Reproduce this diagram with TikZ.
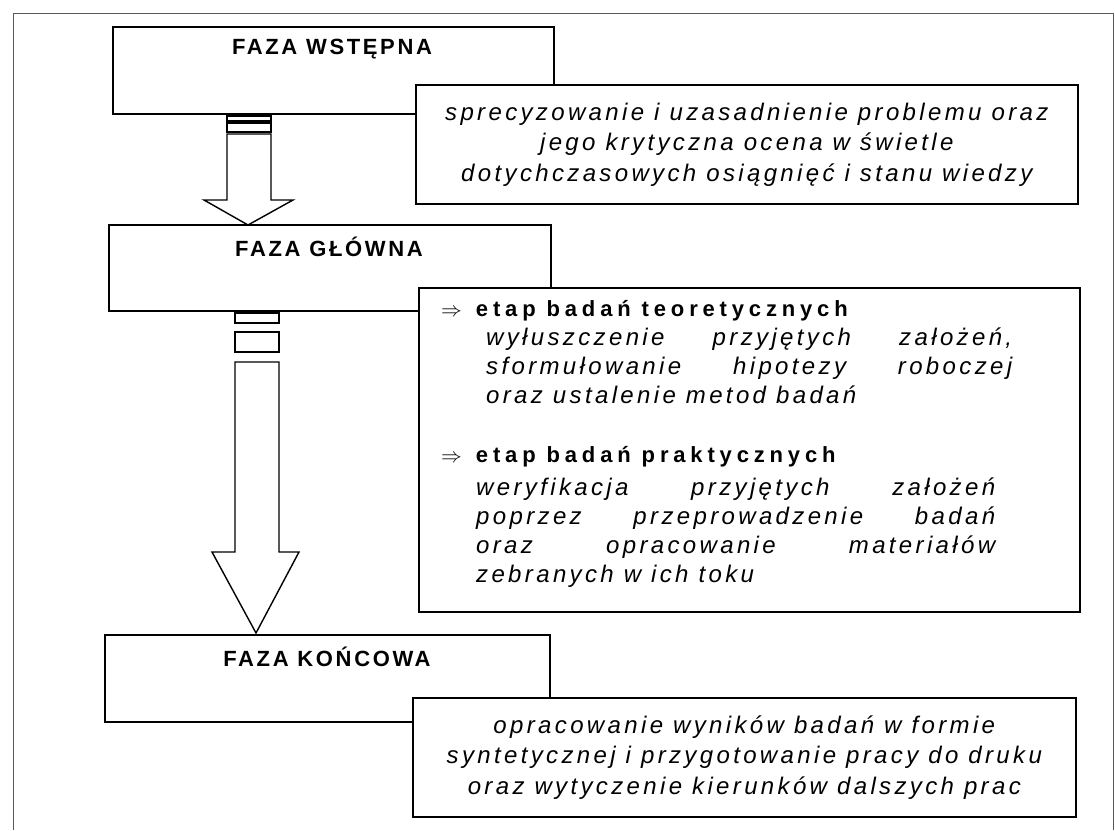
\documentclass[tikz,border=0pt]{standalone}
\usepackage{fontspec}
\setmainfont{Liberation Sans}
\newfontfamily\ttlfont[LetterSpace=12]{Liberation Sans}
\newfontfamily\hdfont[LetterSpace=22]{Liberation Sans}
\newfontfamily\itfont[LetterSpace=14]{Liberation Sans}
\begin{document}
\begin{tikzpicture}[x=1pt,y=-1pt]
\tikzset{
  box/.style={draw=black, line width=1.6pt, fill=white, inner sep=0pt, anchor=north west},
  frameline/.style={draw=black!65, line width=0.9pt},
  ttl/.style={font=\ttlfont\bfseries\fontsize{22}{26}\selectfont, inner sep=0pt, anchor=center},
  hd/.style={font=\hdfont\bfseries\fontsize{22}{26}\selectfont, inner sep=0pt, anchor=base west},
  desc/.style={font=\itfont\itshape\fontsize{24}{30.5}\selectfont, align=center, inner sep=0pt, anchor=center},
  itl/.style={font=\itfont\itshape\fontsize{24}{29}\selectfont, inner sep=0pt, anchor=base west},
  barrow/.style={draw=black, line width=1.4pt, fill=white, line join=miter}
}
\useasboundingbox (0,0) rectangle (1115,830);
\draw[frameline] (13,830) -- (13,13) -- (1113,13) -- (1113,830);

% phase 1
\node[box, minimum width=441pt, minimum height=87pt] (b1) at (112,26) {};
\node[ttl] (t1) at (332,49) {FAZA WSTĘPNA};
\node[box, minimum width=662pt, minimum height=119pt] (d1) at (415,84) {};
\node[desc] (d1t) at (d1.center) {sprecyzowanie i uzasadnienie problemu oraz\\jego krytyczna ocena w świetle\\dotychczasowych osiągnięć i stanu wiedzy};

% arrow 1
\draw[barrow] (227,116) rectangle (271,121);
\draw[barrow] (227,123) rectangle (271,132);
\draw[barrow] (227,134) -- (227,200) -- (204,200) -- (248,225) -- (293,200) -- (271,200) -- (271,134) -- cycle;

% phase 2
\node[box, minimum width=442pt, minimum height=86pt] (b2) at (108,224) {};
\node[ttl] (t2) at (329,247) {FAZA GŁÓWNA};
\node[box, minimum width=661pt, minimum height=324pt] (d2) at (418,287) {};
\node[hd] (h1) at (441,316) {{\fontsize{21}{21}\selectfont$\Rightarrow$}\hspace{14pt}etap badań teoretycznych};
\node[itl] (p1a) at (486,345) {\makebox[526pt][s]{wyłuszczenie przyjętych założeń,}};
\node[itl] (p1b) at (486,374) {\makebox[526pt][s]{sformułowanie hipotezy roboczej}};
\node[itl] (p1c) at (486,403) {oraz ustalenie metod badań};
\node[hd] (h2) at (441,462) {{\fontsize{21}{21}\selectfont$\Rightarrow$}\hspace{14pt}etap badań praktycznych};
\node[itl] (p2a) at (476,495) {\makebox[519pt][s]{weryfikacja przyjętych założeń}};
\node[itl] (p2b) at (476,524) {\makebox[519pt][s]{poprzez przeprowadzenie badań}};
\node[itl] (p2c) at (476,553) {\makebox[519pt][s]{oraz opracowanie materiałów}};
\node[itl] (p2d) at (476,582) {zebranych w ich toku};

% arrow 2
\draw[barrow] (235,313) rectangle (279,323);
\draw[barrow] (235,332) rectangle (279,352);
\draw[barrow] (235,362) -- (235,552) -- (212,552) -- (256,633) -- (299,552) -- (279,552) -- (279,362) -- cycle;

% phase 3
\node[box, minimum width=445pt, minimum height=87pt] (b3) at (104,634) {};
\node[ttl] (t3) at (327,657) {FAZA KOŃCOWA};
\node[box, minimum width=663pt, minimum height=119pt] (d3) at (412,697) {};
\node[desc] (d3t) at (d3.center) {opracowanie wyników badań w formie\\syntetycznej i przygotowanie pracy do druku\\oraz wytyczenie kierunków dalszych prac};
\end{tikzpicture}
\end{document}
